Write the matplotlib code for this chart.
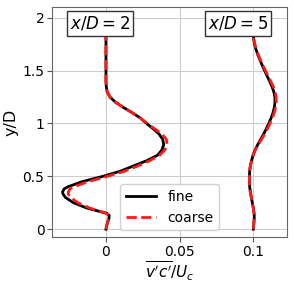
import numpy as np
import matplotlib
matplotlib.use("Agg")
import matplotlib.pyplot as plt

# y/D sample positions
y = [0.00, 0.05, 0.10, 0.13, 0.15, 0.20, 0.25, 0.30, 0.33, 0.35, 0.38, 0.40, 0.45,
     0.50, 0.55, 0.60, 0.65, 0.70, 0.75, 0.80, 0.85, 0.90, 0.95, 1.00, 1.05,
     1.10, 1.15, 1.20, 1.25, 1.30, 1.35, 1.40, 1.45, 1.50, 1.55, 1.60, 1.65,
     1.70, 1.75, 1.80, 1.85]

# x/D = 2 profiles
fine_2 = [0.0000, 0.0008, 0.0020, 0.0022, 0.0005, -0.0130, -0.0220, -0.0275, -0.0290,
          -0.0295, -0.0285, -0.0260, -0.0160, -0.0020, 0.0100, 0.0190, 0.0280, 0.0350,
          0.0380, 0.0392, 0.0385, 0.0360, 0.0320, 0.0275, 0.0235, 0.0180, 0.0120,
          0.0065, 0.0027, 0.0008, 0.0002, 0.0, 0.0, 0.0, 0.0, 0.0, 0.0, 0.0, 0.0, 0.0, 0.0]
coarse_2 = [0.0000, 0.0007, 0.0018, 0.0020, 0.0005, -0.0110, -0.0190, -0.0240, -0.0255,
            -0.0255, -0.0245, -0.0220, -0.0120, 0.0010, 0.0130, 0.0220, 0.0300, 0.0365,
            0.0400, 0.0415, 0.0410, 0.0380, 0.0330, 0.0280, 0.0235, 0.0180, 0.0120,
            0.0065, 0.0027, 0.0008, 0.0002, 0.0, 0.0, 0.0, 0.0, 0.0, 0.0, 0.0, 0.0, 0.0, 0.0]

# x/D = 5 profiles (plotted with an offset of 0.1)
offset_5 = 0.1
fine_5 = [0.0000, 0.0003, 0.0006, 0.0006, 0.0005, 0.0000, -0.0007, -0.0014, -0.0017,
          -0.0020, -0.0023, -0.0025, -0.0027, -0.0027, -0.0025, -0.0020, -0.0012, -0.0002,
          0.0012, 0.0030, 0.0050, 0.0070, 0.0088, 0.0105, 0.0120, 0.0133, 0.0142,
          0.0147, 0.0146, 0.0139, 0.0126, 0.0110, 0.0093, 0.0076, 0.0060, 0.0045,
          0.0030, 0.0018, 0.0008, 0.0002, 0.0000]
coarse_5 = [0.0000, 0.0003, 0.0006, 0.0006, 0.0005, 0.0000, -0.0007, -0.0014, -0.0017,
            -0.0020, -0.0023, -0.0025, -0.0027, -0.0027, -0.0025, -0.0020, -0.0012, -0.0001,
            0.0014, 0.0034, 0.0056, 0.0077, 0.0096, 0.0113, 0.0129, 0.0142, 0.0151,
            0.0156, 0.0155, 0.0148, 0.0135, 0.0118, 0.0100, 0.0082, 0.0065, 0.0049,
            0.0034, 0.0021, 0.0010, 0.0003, 0.0000]

xticks = [0, 0.05, 0.1]
xticklabels = ["0", "0.05", "0.1"]
yticks = [0, 0.5, 1, 1.5, 2]
yticklabels = ["0", "0.5", "1", "1.5", "2"]
labels = ["fine", "coarse"]
station_labels = [r"$x/D=2$", r"$x/D=5$"]
station_pos = [(-0.004, 1.945), (0.0896, 1.945)]

fig = plt.figure(figsize=(2.94, 2.85), dpi=100)
ax = fig.add_axes([0.177, 0.168, 0.799, 0.807])

dash = (0, (3.7, 1.6))
ax.plot(fine_2, y, color="black", lw=2, label=labels[0])
ax.plot(coarse_2, y, color="#ff1a1a", lw=2, ls=dash, label=labels[1])
ax.plot(np.array(fine_5) + offset_5, y, color="black", lw=2)
ax.plot(np.array(coarse_5) + offset_5, y, color="#ff1a1a", lw=2, ls=dash)

for txt, (tx, ty) in zip(station_labels, station_pos):
    ax.text(tx, ty, txt, ha="center", va="center", fontsize=12,
            bbox=dict(boxstyle="square,pad=0.2", fc="white", ec="#333333", lw=1))

ax.set_xlim(-0.0366, 0.1228)
ax.set_ylim(-0.075, 2.1)
ax.set_xticks(xticks)
ax.set_xticklabels(xticklabels)
ax.set_yticks(yticks)
ax.set_yticklabels(yticklabels)
ax.tick_params(labelsize=10, colors="#555555", labelcolor="black", length=3.5, pad=2)
ax.grid(True, color="#cccccc", lw=0.8)
ax.set_axisbelow(True)
for s in ax.spines.values():
    s.set_color("#666666")
ax.set_xlabel(r"$\overline{v'c'}/U_c$", fontsize=11, labelpad=1)
ax.set_ylabel("y/D", fontsize=11.5, labelpad=3)
ax.legend(loc="lower center", fontsize=10, handlelength=2.2, framealpha=0.9)

fig.savefig("out.png", dpi=100)
